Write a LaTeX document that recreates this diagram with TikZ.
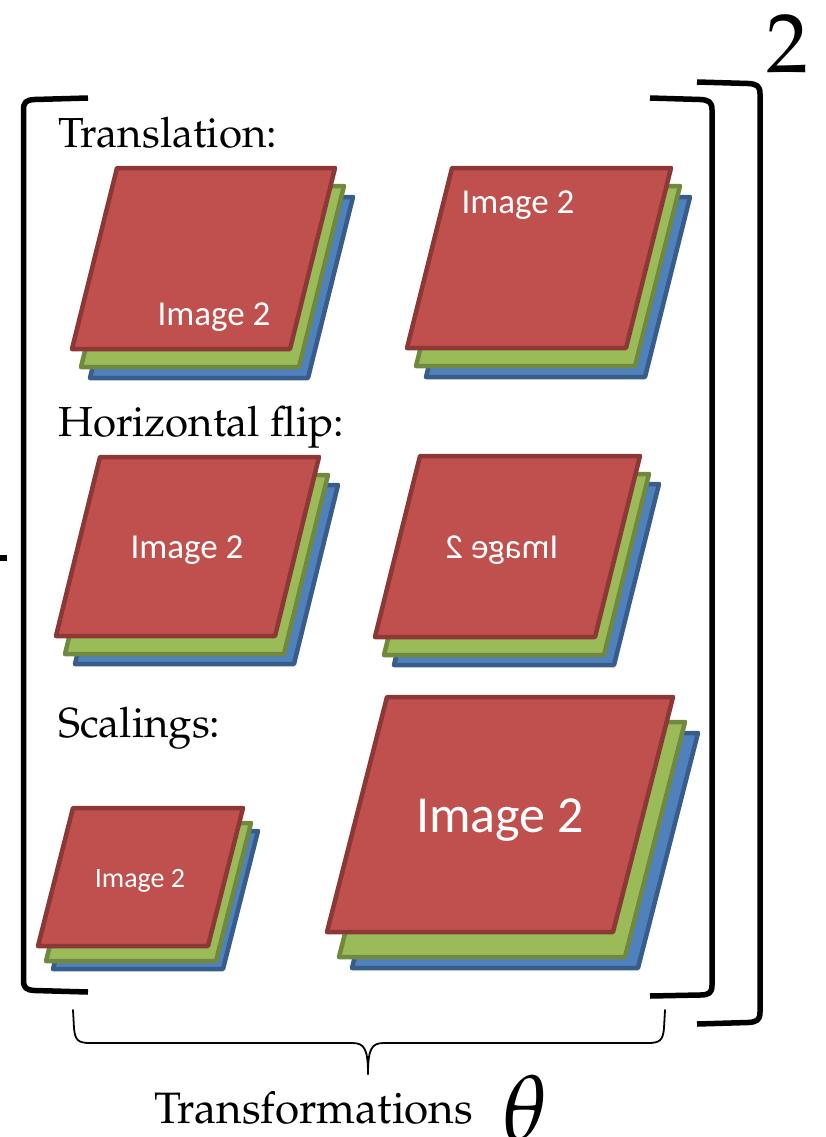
\documentclass[tikz,border=0pt]{standalone}
\usepackage[T1]{fontenc}
\usepackage{mathpazo}
\usepackage{fontspec}
\newfontfamily\sheetfont{Carlito}
\newcommand\palfont{\fontencoding{T1}\fontfamily{ppl}\selectfont}

\definecolor{sheetred}{HTML}{C0504D}
\definecolor{sheetredline}{HTML}{8C3836}
\definecolor{sheetgreen}{HTML}{9BBB59}
\definecolor{sheetgreenline}{HTML}{71893F}
\definecolor{sheetblue}{HTML}{4F81BD}
\definecolor{sheetblueline}{HTML}{385D8A}

\tikzset{
  sheet/.style={line width=4.5pt, line join=round},
  redsheet/.style={sheet, fill=sheetred, draw=sheetredline},
  greensheet/.style={sheet, fill=sheetgreen, draw=sheetgreenline},
  bluesheet/.style={sheet, fill=sheetblue, draw=sheetblueline},
  sheettext/.style={text=white, inner sep=0pt, anchor=base},
  caption/.style={inner sep=0pt, anchor=base west, font=\palfont\fontsize{42}{50}\selectfont},
  bracket/.style={line width=5.5pt, line cap=butt, line join=round},
  brace/.style={line width=1.8pt, line cap=round}
}

% three stacked sheets: #1,#2 lower-left corner of the top sheet, #3 width,
% #4 height, #5 slant, #6/#7 offset of the green sheet, #8/#9 offset of the blue sheet
\newcommand\sheetstack[9]{%
  \draw[bluesheet] (#1+#8,#2+#9) -- ++(#3,0) -- ++(#5,-#4) -- ++(-#3,0) -- cycle;
  \draw[greensheet] (#1+#6,#2+#7) -- ++(#3,0) -- ++(#5,-#4) -- ++(-#3,0) -- cycle;
  \draw[redsheet] (#1,#2) -- ++(#3,0) -- ++(#5,-#4) -- ++(-#3,0) -- cycle;
}

\begin{document}
\begin{tikzpicture}[x=1pt, y=-1pt]
\useasboundingbox (0,0) rectangle (825,1137);

% stacks of images
\sheetstack{72}{349}{218}{181}{45}{9}{18}{18}{29}
\sheetstack{407}{348}{219}{180}{45}{9}{18}{19}{29}
\sheetstack{56}{636}{219}{179}{44}{9}{18}{19}{28}
\sheetstack{375}{637}{220}{181}{45}{9}{18}{19}{28}
\sheetstack{38}{946}{170}{138}{35}{8}{15}{15}{23}
\sheetstack{327}{932}{286}{235}{60}{12}{25}{25}{36}

% labels on the sheets
\node[sheettext, font=\sheetfont\fontsize{35}{42}\selectfont] (imgA) at (214,325) {Image 2};
\node[sheettext, font=\sheetfont\fontsize{35}{42}\selectfont] (imgB) at (518,213) {Image 2};
\node[sheettext, font=\sheetfont\fontsize{35}{42}\selectfont] (imgC) at (187,558) {Image 2};
\node[sheettext, font=\sheetfont\fontsize{35}{42}\selectfont, xscale=-1] (imgD) at (502,558) {Image 2};
\node[sheettext, font=\sheetfont\fontsize{28}{34}\selectfont] (imgE) at (140,887) {Image 2};
\node[sheettext, font=\sheetfont\fontsize{52}{62}\selectfont] (imgF) at (500,832) {Image 2};

% row captions
\node[caption] (capT) at (58,147) {Translation:};
\node[caption] (capH) at (58,436) {Horizontal flip:};
\node[caption] (capS) at (58,737) {Scalings:};

% brackets
\draw[bracket] (88,98) -- (35,99.5) .. controls (26,100) and (23.5,102) .. (23.5,110)
  -- (23.5,980) .. controls (23.5,988) and (26,990) .. (35,990.5) -- (88,992);
\draw[bracket] (650,98) -- (700,99.5) .. controls (709,100) and (712,102) .. (712,110)
  -- (712,985) .. controls (712,993) and (709,995) .. (700,995) -- (650,996);
\draw[bracket] (697,82) -- (748,83.5) .. controls (757,84) and (760,86) .. (760,94)
  -- (760,1012) .. controls (760,1020) and (757,1022) .. (748,1022.5) -- (697,1024);
\fill (0,555) rectangle (7,561);

% exponent
\node[inner sep=0pt, anchor=base, font=\palfont\fontsize{84}{90}\selectfont] (power) at (787,73) {2};

% brace under the matrix
\coordinate (bl) at (73,1010);
\coordinate (br) at (665,1010);
\coordinate (tip) at (368,1074);
\draw[brace] (bl) -- (74,1028) .. controls (75,1040) and (78,1043) .. (90,1043)
  -- (352,1043) .. controls (364,1043) and (368,1048) .. (tip);
\draw[brace] (tip) .. controls (368,1048) and (372,1043) .. (384,1043)
  -- (648,1043) .. controls (660,1043) and (663,1040) .. (664,1028) -- (br);

\node[inner sep=0pt, anchor=base west, font=\palfont\fontsize{44}{52}\selectfont] (trans) at (154,1123)
  {Transformations};
\node[inner sep=0pt, anchor=base west, font=\fontsize{92}{96}\selectfont] (theta) at (502,1140)
  {$\theta$};
\end{tikzpicture}
\end{document}
